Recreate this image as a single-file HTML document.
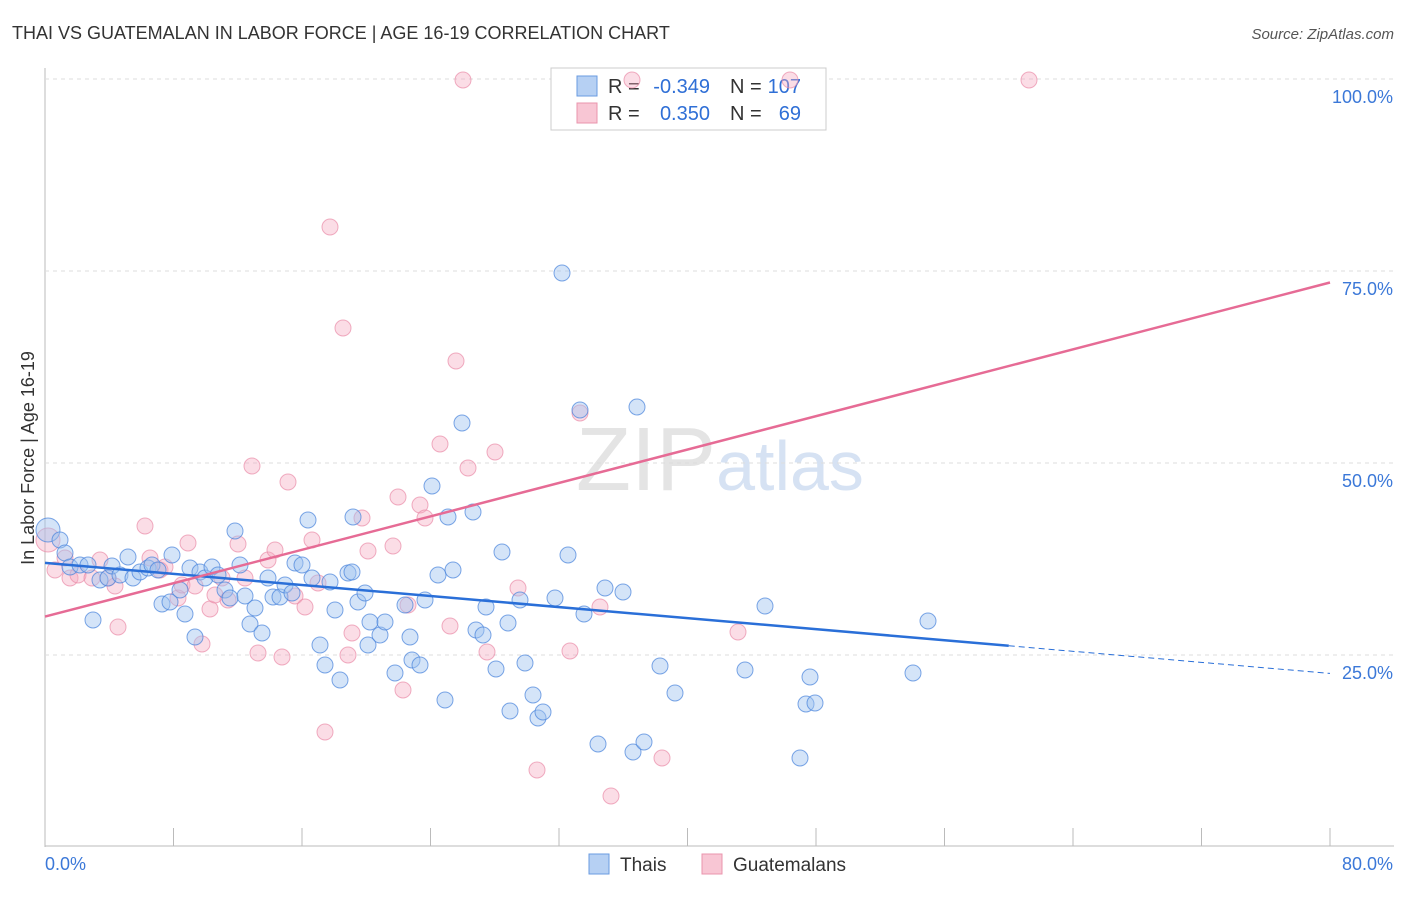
<!DOCTYPE html>
<html><head><meta charset="utf-8"><style>
body{margin:0;background:#fff;font-family:"Liberation Sans",sans-serif}
svg text{font-family:"Liberation Sans",sans-serif}
</style></head><body>
<svg id="c" width="1406" height="892">
<text x="12" y="39" font-size="18" fill="#333">THAI VS GUATEMALAN IN LABOR FORCE | AGE 16-19 CORRELATION CHART</text>
<text x="1394" y="39" font-size="15" fill="#555" text-anchor="end" font-style="italic">Source: ZipAtlas.com</text>
<text x="720" y="490" font-size="90" fill="#e4e4e4" text-anchor="middle" font-family="Liberation Serif">ZIP<tspan fill="#d6e2f3" font-family="Liberation Sans" font-size="70">atlas</tspan></text>
<text transform="translate(34,458) rotate(-90)" font-size="18" fill="#333" text-anchor="middle">In Labor Force | Age 16-19</text>
<g id="grid"></g>
<g>
<rect x="551" y="68" width="275" height="62" fill="#fff" stroke="#ccc"/>
<rect x="577" y="76" width="20" height="20" fill="#b6d0f3" stroke="#6a9be0"/>
<rect x="577" y="103" width="20" height="20" fill="#f8c6d4" stroke="#ea94ad"/>
<text x="608" y="93" font-size="20" fill="#333">R =</text>
<text x="710" y="93" font-size="20" fill="#2f6fd6" text-anchor="end">-0.349</text>
<text x="730" y="93" font-size="20" fill="#333">N =</text>
<text x="801" y="93" font-size="20" fill="#2f6fd6" text-anchor="end">107</text>
<text x="608" y="120" font-size="20" fill="#333">R =</text>
<text x="710" y="120" font-size="20" fill="#2f6fd6" text-anchor="end">0.350</text>
<text x="730" y="120" font-size="20" fill="#333">N =</text>
<text x="801" y="120" font-size="20" fill="#2f6fd6" text-anchor="end">69</text>
</g>
<g id="pts"></g><g id="lines"></g>
<g>
<rect x="589" y="854" width="20" height="20" fill="#b6d0f3" stroke="#6a9be0"/>
<text x="620" y="871" font-size="19" fill="#333">Thais</text>
<rect x="702" y="854" width="20" height="20" fill="#f8c6d4" stroke="#ea94ad"/>
<text x="733" y="871" font-size="19" fill="#333">Guatemalans</text>
</g>
</svg>
<script>
const xTicks=[0,8,16,24,32,40,48,56,64,72,80];
const yTicks=[25,50,75,100];
const thaiX=[48,60,65,70,80,88,93,100,108,112,120,128,133,140,148,152,158,162,170,172,180,185,190,195,200,205,212,218,225,230,235,240,245,250,255,262,268,273,280,285,292,295,302,308,312,320,325,330,335,340,353,358,365,370,348,352,368,380,385,395,405,410,412,420,425,432,438,445,448,453,462,473,476,483,486,496,502,508,510,520,525,533,538,543,555,562,568,580,584,598,605,623,633,637,644,660,675,745,765,800,806,810,815,913,928].map(p=>(p-45)/1285*80);
const thaiY=[530,540,553,567,565,565,620,580,578,566,575,557,578,572,568,565,570,604,602,555,590,614,568,637,572,578,567,575,590,598,531,565,596,624,608,633,578,597,597,585,593,563,565,520,578,645,665,582,610,680,517,602,593,622,573,572,645,635,622,673,605,637,660,665,600,486,575,700,517,570,423,512,630,635,607,669,552,623,711,600,663,695,718,712,598,273,555,410,614,744,588,592,752,407,742,666,693,670,606,758,704,677,703,673,621].map(p=>(847-p)/768*100);
const guatX=[48,55,65,70,78,92,100,108,118,115,145,150,160,165,178,182,188,195,202,210,215,222,228,238,245,252,258,268,275,282,288,295,305,312,318,325,330,343,348,352,362,368,393,398,403,408,420,425,440,450,456,463,468,487,495,518,537,570,580,600,611,632,662,738,790,1029].map(p=>(p-45)/1285*80);
const guatY=[540,570,558,578,575,578,560,578,627,586,526,558,570,567,598,585,543,586,644,609,595,578,600,544,578,466,653,560,550,657,482,596,607,540,583,732,227,328,655,633,518,551,546,497,690,605,505,518,444,626,361,80,468,652,452,588,770,651,413,607,796,80,758,632,80,80].map(p=>(847-p)/768*100);
const thaiTrend=[37.0,22.6];const guatTrend=[30.0,73.5];
const X=v=>45+v/80*1285, Y=v=>847-v/100*768;
const NS="http://www.w3.org/2000/svg";
function mk(t,a,p){const e=document.createElementNS(NS,t);for(const k in a)e.setAttribute(k,a[k]);p.appendChild(e);return e;}
const g=document.getElementById('grid'),pts=document.getElementById('pts'),ln=document.getElementById('lines');
mk('line',{x1:45,y1:68,x2:45,y2:847,stroke:'#bbb'},g);
mk('line',{x1:45,y1:846,x2:1394,y2:846,stroke:'#bbb'},g);
yTicks.forEach(v=>{
 const l=mk('line',{x1:45,y1:Y(v),x2:1394,y2:Y(v),stroke:'#ddd','stroke-dasharray':'4,4'},g);
 
 const t=mk('text',{x:1393,y:Y(v)+24,'font-size':18,fill:'#3b78d8','text-anchor':'end'},g);t.textContent=v.toFixed(1)+'%';
 
});
xTicks.forEach((v,i)=>{
 const l=mk('line',{x1:X(v),y1:828,x2:X(v),y2:846,stroke:'#bbb'},g);
 
 if(i==0||i==xTicks.length-1){const t=mk('text',{x:i==0?45:1393,y:870,'font-size':18,fill:'#3b78d8','text-anchor':i==0?'start':'end'},g);t.textContent=v.toFixed(1)+'%';
 }
});
guatX.forEach((v,i)=>{const c=mk('circle',{cx:X(v),cy:Y(guatY[i]),r:i==0?12:8,fill:'rgba(246,170,192,0.4)',stroke:'rgba(234,140,168,0.7)'},pts);
 });
thaiX.forEach((v,i)=>{const c=mk('circle',{cx:X(v),cy:Y(thaiY[i]),r:i==0?12:8,fill:'rgba(160,195,240,0.45)',stroke:'rgba(70,130,220,0.7)'},pts);
 });
const f=(tr,x)=>tr[0]+(tr[1]-tr[0])*x/80;
let l1=mk('line',{x1:X(0),y1:Y(f(thaiTrend,0)),x2:X(60),y2:Y(f(thaiTrend,60)),stroke:'#2a6fd8','stroke-width':2.5},ln);

let l2=mk('line',{x1:X(60),y1:Y(f(thaiTrend,60)),x2:X(80),y2:Y(f(thaiTrend,80)),stroke:'#2a6fd8','stroke-width':1,'stroke-dasharray':'6,4'},ln);

let l3=mk('line',{x1:X(0),y1:Y(f(guatTrend,0)),x2:X(80),y2:Y(f(guatTrend,80)),stroke:'#e66b95','stroke-width':2.5},ln);

</script>
</body></html>
